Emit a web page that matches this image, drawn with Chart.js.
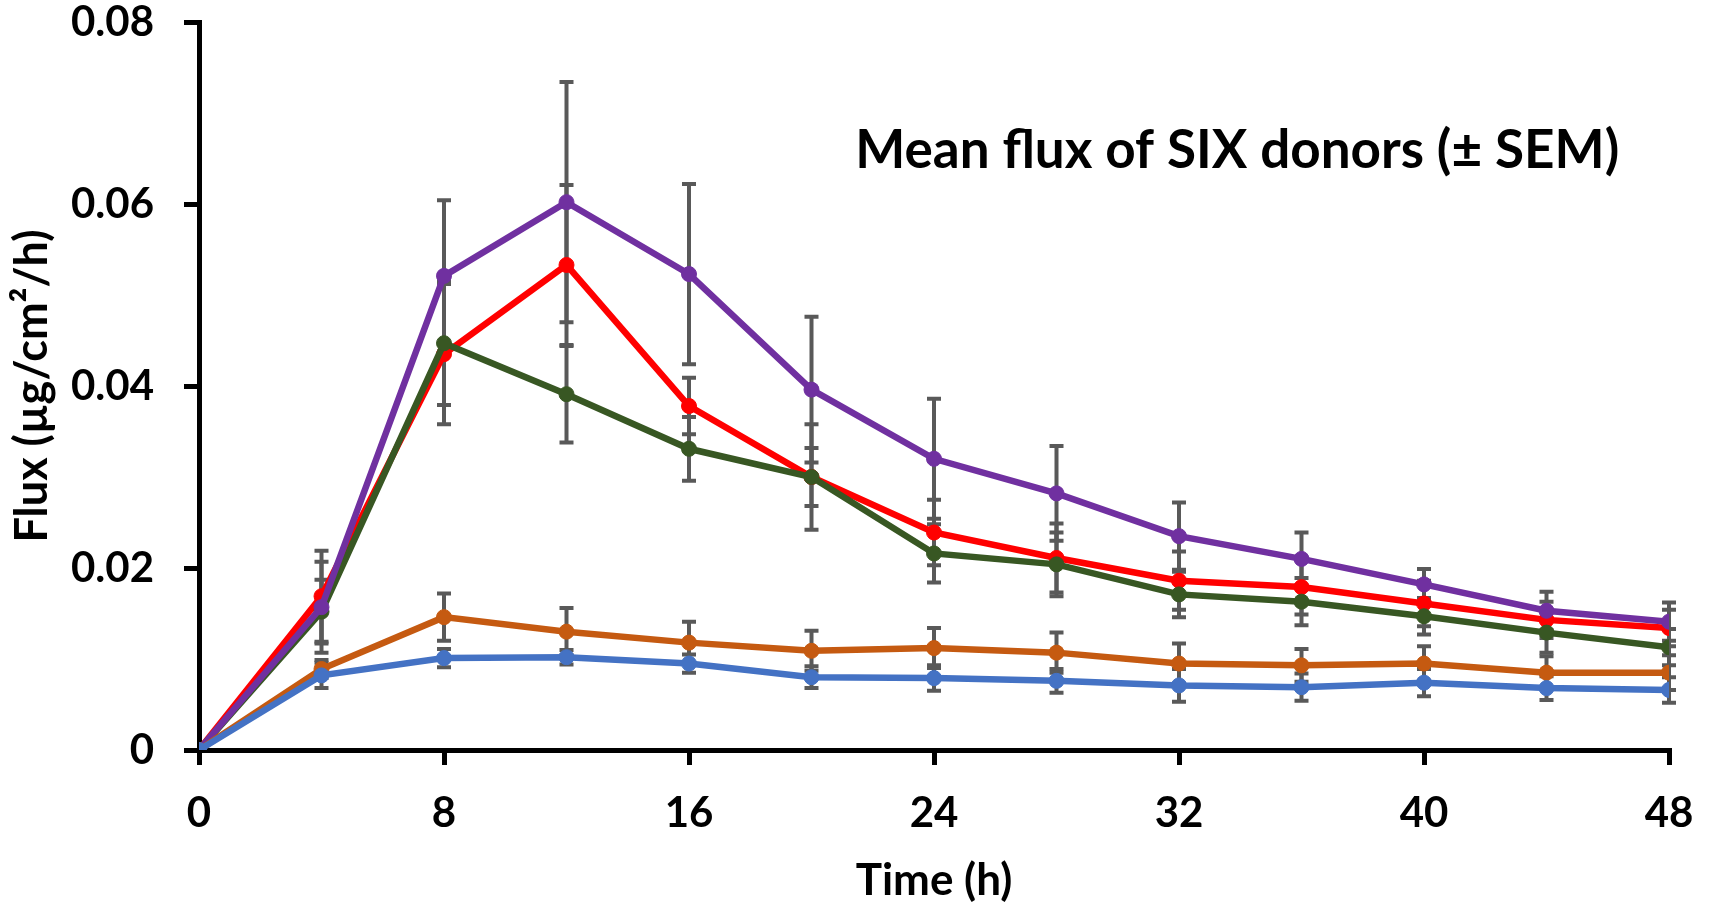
<!DOCTYPE html>
<html>
<head>
<meta charset="utf-8">
<title>Mean flux</title>
<script src="https://cdn.jsdelivr.net/npm/chart.js@4/dist/chart.umd.min.js"></script>
<style>
    html, body { margin: 0; padding: 0; background: #ffffff; }
    #wrap { width: 1711px; height: 902px; }
</style>
</head>
<body>
<div id="wrap"><canvas id="fluxChart" width="1711" height="902"></canvas></div>
<script>
// Time points (h)
const times = [0, 4, 8, 12, 16, 20, 24, 28, 32, 36, 40, 44, 48];

// Mean flux (ug/cm2/h) per series
const purpleMean = [0, 0.0157, 0.0521, 0.0602, 0.0523, 0.0396, 0.0320, 0.0282, 0.0235, 0.0210, 0.0182, 0.0153, 0.0141];
const redMean    = [0, 0.0169, 0.0435, 0.0533, 0.0378, 0.0300, 0.0239, 0.0211, 0.0186, 0.0179, 0.0161, 0.0143, 0.0134];
const greenMean  = [0, 0.0152, 0.0447, 0.0391, 0.0331, 0.0300, 0.0216, 0.0204, 0.0171, 0.0163, 0.0147, 0.0129, 0.0113];
const orangeMean = [0, 0.0089, 0.0146, 0.0130, 0.0118, 0.0109, 0.0112, 0.0107, 0.0095, 0.0093, 0.0095, 0.0085, 0.0085];
const blueMean   = [0, 0.0082, 0.0101, 0.0102, 0.0095, 0.0080, 0.0079, 0.0076, 0.0071, 0.0069, 0.0074, 0.0068, 0.0066];

// SEM per series
const purpleSem = [0, 0.0050, 0.0083, 0.0132, 0.0099, 0.0080, 0.0066, 0.0052, 0.0037, 0.0029, 0.0017, 0.0021, 0.0021];
const redSem    = [0, 0.0050, 0.0077, 0.0088, 0.0031, 0.0032, 0.0036, 0.0038, 0.0032, 0.0030, 0.0025, 0.0020, 0.0020];
const greenSem  = [0, 0.0035, 0.0068, 0.0053, 0.0035, 0.0058, 0.0032, 0.0035, 0.0025, 0.0026, 0.0020, 0.0022, 0.0020];
const orangeSem = [0, 0.0010, 0.0026, 0.0026, 0.0023, 0.0022, 0.0022, 0.0022, 0.0022, 0.0018, 0.0019, 0.0018, 0.0019];
const blueSem   = [0, 0.0014, 0.0010, 0.0008, 0.0010, 0.0012, 0.0014, 0.0013, 0.0018, 0.0015, 0.0015, 0.0013, 0.0014];

// Tick labels
const xTicks = [0, 8, 16, 24, 32, 40, 48];
const yTicks = [0, 0.02, 0.04, 0.06, 0.08];

const chartTitle = 'Mean flux of SIX donors (\u00B1 SEM)';
const FONT = 'Lato, "Open Sans", sans-serif';

function makeSeries(label, means, sems, color) {
    return {
        label: label,
        data: times.map((t, i) => ({ x: t, y: means[i] })),
        sem: sems,
        borderColor: color,
        backgroundColor: color,
        pointBackgroundColor: color,
        pointBorderColor: color,
        borderWidth: 6.5,
        pointRadius: 7.5,
        pointBorderWidth: 1,
        tension: 0,
        fill: false
    };
}

// First dataset is drawn on top
const datasets = [
    makeSeries('Series 5', blueMean, blueSem, '#4472C4'),
    makeSeries('Series 4', orangeMean, orangeSem, '#C55A11'),
    makeSeries('Series 3', purpleMean, purpleSem, '#7030A0'),
    makeSeries('Series 2', greenMean, greenSem, '#385723'),
    makeSeries('Series 1', redMean, redSem, '#FF0000')
];

// Error bars, drawn under the lines
const errorBars = {
    id: 'errorBars',
    beforeDatasetsDraw(chart) {
        const ctx = chart.ctx;
        const xs = chart.scales.x;
        const ys = chart.scales.y;
        ctx.save();
        ctx.strokeStyle = '#595959';
        ctx.lineWidth = 4;
        ctx.lineCap = 'butt';
        chart.data.datasets.forEach(ds => {
            ds.data.forEach((p, i) => {
                const s = ds.sem[i];
                if (!s) return;
                const px = xs.getPixelForValue(p.x);
                const top = ys.getPixelForValue(p.y + s);
                const bot = ys.getPixelForValue(p.y - s);
                ctx.beginPath();
                ctx.moveTo(px, top);
                ctx.lineTo(px, bot);
                ctx.moveTo(px - 7, top);
                ctx.lineTo(px + 7, top);
                ctx.moveTo(px - 7, bot);
                ctx.lineTo(px + 7, bot);
                ctx.stroke();
            });
        });
        ctx.restore();
    }
};

// Title inside the plot area
const innerTitle = {
    id: 'innerTitle',
    afterDraw(chart) {
        const ctx = chart.ctx;
        const xs = chart.scales.x;
        const ys = chart.scales.y;
        ctx.save();
        ctx.fillStyle = '#000000';
        ctx.font = 'bold 53px ' + FONT;
        ctx.textAlign = 'center';
        ctx.textBaseline = 'alphabetic';
        ctx.fillText(chartTitle, xs.getPixelForValue(33.9), ys.getPixelForValue(0.064));
        ctx.restore();
    }
};

const ctx = document.getElementById('fluxChart').getContext('2d');

const fluxChart = new Chart(ctx, {
    type: 'line',
    data: { datasets: datasets },
    options: {
        responsive: false,
        animation: false,
        layout: { padding: { top: 22, right: 42, bottom: 0, left: 0 } },
        plugins: {
            legend: { display: false },
            tooltip: { enabled: false }
        },
        scales: {
            x: {
                type: 'linear',
                min: 0,
                max: 48,
                afterBuildTicks: axis => { axis.ticks = xTicks.map(v => ({ value: v })); },
                afterFit: axis => {
                    axis.height = 152;
                    axis.paddingLeft = 0;
                    axis.paddingRight = 0;
                },
                ticks: {
                    color: '#000000',
                    padding: 23,
                    font: { family: FONT, size: 42, weight: 'bold' },
                    callback: v => String(v)
                },
                grid: {
                    drawOnChartArea: false,
                    drawTicks: true,
                    tickLength: 15,
                    lineWidth: 5,
                    color: '#000000'
                },
                border: { display: true, width: 5, color: '#000000' },
                title: {
                    display: true,
                    text: 'Time (h)',
                    color: '#000000',
                    padding: { top: 0, bottom: -1 },
                    font: { family: FONT, size: 44, weight: 'bold', lineHeight: 1 }
                }
            },
            y: {
                type: 'linear',
                min: 0,
                max: 0.08,
                afterBuildTicks: axis => { axis.ticks = yTicks.map(v => ({ value: v })); },
                afterFit: axis => {
                    axis.width = 199;
                    axis.paddingTop = 0;
                    axis.paddingBottom = 0;
                },
                ticks: {
                    color: '#000000',
                    padding: 30,
                    font: { family: FONT, size: 42, weight: 'bold' },
                    callback: v => String(Math.round(v * 100) / 100)
                },
                grid: {
                    drawOnChartArea: false,
                    drawTicks: true,
                    tickLength: 15,
                    lineWidth: 5,
                    color: '#000000'
                },
                border: { display: true, width: 5, color: '#000000' },
                title: {
                    display: true,
                    text: 'Flux (\u00B5g/cm\u00B2/h)',
                    color: '#000000',
                    padding: { top: 5, bottom: 0 },
                    font: { family: FONT, size: 45, weight: 'bold', lineHeight: 1.2 }
                }
            }
        }
    },
    plugins: [errorBars, innerTitle]
});
</script>
</body>
</html>
